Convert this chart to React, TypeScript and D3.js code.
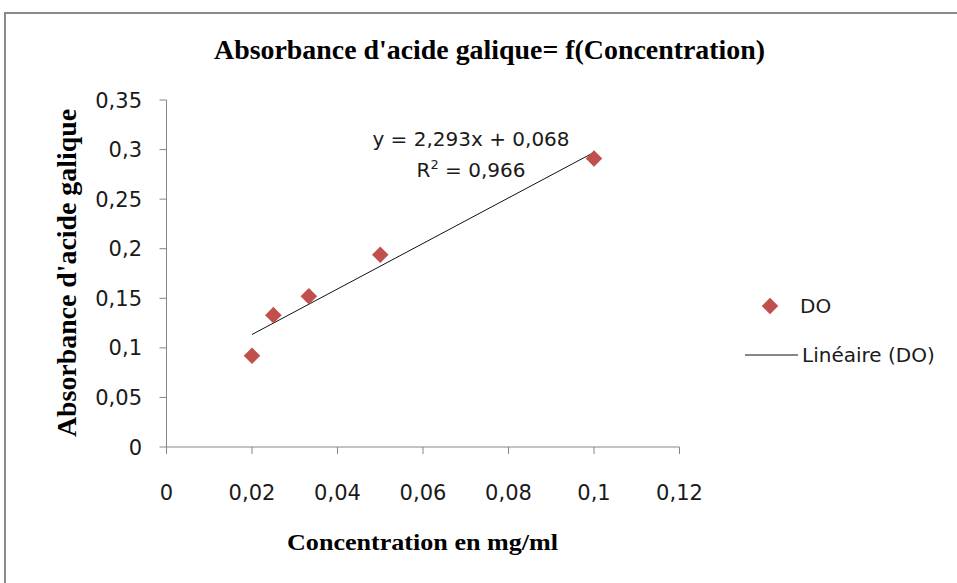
import React from "react";
import * as d3 from "d3";

const concentrations = [0.02, 0.025, 0.0333, 0.05, 0.1];
const absorbances = [0.092, 0.133, 0.152, 0.194, 0.291];
const xTicks = [0, 0.02, 0.04, 0.06, 0.08, 0.1, 0.12];
const yTicks = [0, 0.05, 0.1, 0.15, 0.2, 0.25, 0.3, 0.35];
const titleText = "Absorbance d'acide galique= f(Concentration)";
const xLabel = "Concentration en mg/ml";
const yLabel = "Absorbance d'acide galique";
const eqText = "y = 2,293x + 0,068";
const r2Value = "0,966";
const seriesName = "DO";
const trendName = "Linéaire (DO)";

const fmt = (v: number) => String(+v.toFixed(4)).replace(".", ",");

export default function App() {
  const x = d3.scaleLinear().domain([0, 0.12]).range([166.5, 679.5]);
  const y = d3.scaleLinear().domain([0, 0.35]).range([447, 100]);

  // linear regression
  const n = concentrations.length;
  const mx = d3.mean(concentrations)!;
  const my = d3.mean(absorbances)!;
  let sxy = 0, sxx = 0;
  for (let i = 0; i < n; i++) {
    sxy += (concentrations[i] - mx) * (absorbances[i] - my);
    sxx += (concentrations[i] - mx) ** 2;
  }
  const slope = sxy / sxx;
  const intercept = my - slope * mx;
  const xMin = d3.min(concentrations)!;
  const xMax = d3.max(concentrations)!;
  const line = d3.line<number>().x((d) => x(d)).y((d) => y(slope * d + intercept));

  const diamond = d3.symbol().type(d3.symbolDiamond2).size(175)()!;
  const axisColor = "#868686";
  const tickFont = "'DejaVu Sans', 'Open Sans', sans-serif";
  const textColor = "#1a1a1a";

  return (
    <svg
      width={957}
      height={583}
      style={{ position: "absolute", left: 0, top: 0, background: "#fff" }}
    >
      <rect x={0} y={0} width={957} height={583} fill="#fff" />
      <rect x={5} y={13} width={970} height={600} fill="#fff" stroke="#8a8a8a" strokeWidth={2} />

      <text
        x={214}
        y={59}
        fontFamily="'Liberation Serif', 'Times New Roman', serif"
        fontWeight="bold"
        fontSize={27}
        textLength={551}
        lengthAdjust="spacingAndGlyphs"
        fill="#000"
      >
        {titleText}
      </text>

      {/* axes */}
      <line x1={x(0)} x2={x(0)} y1={y(0.35)} y2={y(0)} stroke={axisColor} strokeWidth={1} />
      <line x1={x(0)} x2={x(0.12)} y1={y(0)} y2={y(0)} stroke={axisColor} strokeWidth={1} />
      {yTicks.map((t) => (
        <g key={"y" + t}>
          <line x1={x(0) - 7} x2={x(0)} y1={y(t)} y2={y(t)} stroke={axisColor} />
          <text
            x={142}
            y={y(t)}
            dy="0.36em"
            textAnchor="end"
            fontFamily={tickFont}
            fontSize={21}
            fill={textColor}
          >
            {fmt(t)}
          </text>
        </g>
      ))}
      {xTicks.map((t) => (
        <g key={"x" + t}>
          <line x1={x(t)} x2={x(t)} y1={y(0)} y2={y(0) + 7} stroke={axisColor} />
          <text
            x={x(t)}
            y={500}
            textAnchor="middle"
            fontFamily={tickFont}
            fontSize={21}
            fill={textColor}
          >
            {fmt(t)}
          </text>
        </g>
      ))}

      {/* trendline */}
      <path d={line([xMin, xMax])!} stroke="#111" strokeWidth={1} fill="none" />

      {/* points */}
      {concentrations.map((c, i) => (
        <path
          key={"p" + i}
          d={diamond}
          transform={`translate(${x(c)},${y(absorbances[i])})`}
          fill="#C0504D"
        />
      ))}

      {/* equation */}
      <text x={471} y={146} textAnchor="middle" fontFamily={tickFont} fontSize={20} fill={textColor}>
        {eqText}
      </text>
      <text x={471} y={177} textAnchor="middle" fontFamily={tickFont} fontSize={20} fill={textColor}>
        R<tspan dy={-8} fontSize={13}>2</tspan>
        <tspan dy={8}>{" = " + r2Value}</tspan>
      </text>

      {/* axis titles */}
      <text
        x={287}
        y={550}
        fontFamily="'Liberation Serif', 'Times New Roman', serif"
        fontWeight="bold"
        fontSize={23}
        textLength={271}
        lengthAdjust="spacingAndGlyphs"
        fill="#000"
      >
        {xLabel}
      </text>
      <text
        transform={`translate(76,437) rotate(-90)`}
        x={0}
        y={0}
        fontFamily="'Liberation Serif', 'Times New Roman', serif"
        fontWeight="bold"
        fontSize={27}
        textLength={328}
        lengthAdjust="spacingAndGlyphs"
        fill="#000"
      >
        {yLabel}
      </text>

      {/* legend */}
      <path d={diamond} transform="translate(770,306)" fill="#C0504D" />
      <text x={800} y={313} fontFamily={tickFont} fontSize={20} fill={textColor}>
        {seriesName}
      </text>
      <line x1={745} x2={798} y1={355} y2={355} stroke="#111" strokeWidth={1} />
      <text x={802} y={362} fontFamily={tickFont} fontSize={20} fill={textColor}>
        {trendName}
      </text>
    </svg>
  );
}
